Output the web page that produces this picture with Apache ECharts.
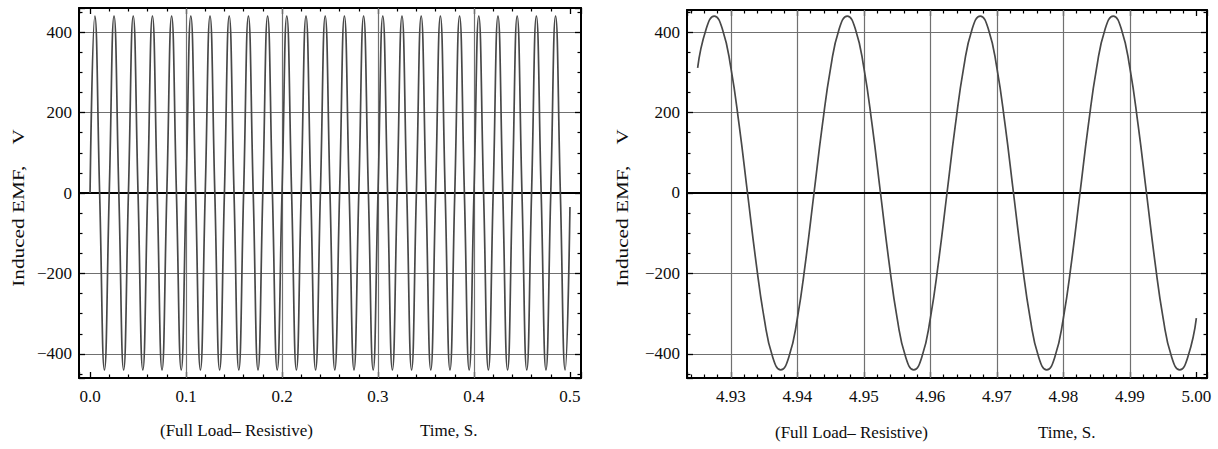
<!DOCTYPE html>
<html>
<head>
<meta charset="utf-8">
<script src="https://cdn.jsdelivr.net/npm/echarts@6/dist/echarts.min.js"></script>
<style>
html,body{margin:0;padding:0;background:#fff;}
#chart{width:1218px;height:449px;}
</style>
</head>
<body>
<div id="chart"></div>
<script>
// ---- Data ----
const leftTime = [
  0,0.005,0.01,0.015,0.02,0.025,0.03,0.035,0.04,0.045,0.05,0.055,0.06,0.065,0.07,0.075,0.08,0.085,0.09,0.095,
  0.1,0.105,0.11,0.115,0.12,0.125,0.13,0.135,0.14,0.145,0.15,0.155,0.16,0.165,0.17,0.175,0.18,0.185,0.19,0.195,
  0.2,0.205,0.21,0.215,0.22,0.225,0.23,0.235,0.24,0.245,0.25,0.255,0.26,0.265,0.27,0.275,0.28,0.285,0.29,0.295,
  0.3,0.305,0.31,0.315,0.32,0.325,0.33,0.335,0.34,0.345,0.35,0.355,0.36,0.365,0.37,0.375,0.38,0.385,0.39,0.395,
  0.4,0.405,0.41,0.415,0.42,0.425,0.43,0.435,0.44,0.445,0.45,0.455,0.46,0.465,0.47,0.475,0.48,0.485,0.49,0.495,
  0.5
];
const leftEmf = [
  0,440,0,-440,0,440,0,-440,0,440,0,-440,0,440,0,-440,0,440,0,-440,
  0,440,0,-440,0,440,0,-440,0,440,0,-440,0,440,0,-440,0,440,0,-440,
  0,440,0,-440,0,440,0,-440,0,440,0,-440,0,440,0,-440,0,440,0,-440,
  0,440,0,-440,0,440,0,-440,0,440,0,-440,0,440,0,-440,0,440,0,-440,
  0,440,0,-440,0,440,0,-440,0,440,0,-440,0,440,0,-440,0,440,0,-440,
  -35
];
const rightTime = [
  4.925,4.92625,4.9275,4.92875,4.93,4.93125,4.9325,4.93375,4.935,4.93625,4.9375,4.93875,
  4.94,4.94125,4.9425,4.94375,4.945,4.94625,4.9475,4.94875,4.95,4.95125,4.9525,4.95375,
  4.955,4.95625,4.9575,4.95875,4.96,4.96125,4.9625,4.96375,4.965,4.96625,4.9675,4.96875,
  4.97,4.97125,4.9725,4.97375,4.975,4.97625,4.9775,4.97875,4.98,4.98125,4.9825,4.98375,
  4.985,4.98625,4.9875,4.98875,4.99,4.99125,4.9925,4.99375,4.995,4.99625,4.9975,4.99875,5.0
];
const rightEmf = [
  311,406,
  440,406,311,168,0,-168,-311,-406,-440,-406,-311,-168,0,168,311,406,
  440,406,311,168,0,-168,-311,-406,-440,-406,-311,-168,0,168,311,406,
  440,406,311,168,0,-168,-311,-406,-440,-406,-311,-168,0,168,311,406,
  440,406,311,168,0,-168,-311,-406,-440,-406,-311
];
const leftGridX = [0.1, 0.2, 0.3, 0.4];
const rightGridX = [4.93, 4.94, 4.95, 4.96, 4.97, 4.98, 4.99];
const yLabel = 'Induced EMF,\u00a0\u00a0\u00a0\u00a0V';
const xNote = '(Full Load\u2013 Resistive)';
const xTitle = 'Time, S.';

// ---- Chart ----
const FONT = '"Liberation Serif", "DejaVu Serif", serif';
const TXT = '#0d0d0d';
const chart = echarts.init(document.getElementById('chart'), null, {renderer: 'svg'});

function pair(arrX, arrY) { return arrX.map((x, i) => [x, arrY[i]]); }
const fmtY = v => (v < 0 ? '\u2212' + Math.abs(v) : String(v));

function xAxisDef(grid, min, max, pos, digits, splitNumber) {
  const main = pos === 'bottom';
  return {
    type: 'value', gridIndex: grid, position: pos, min: min, max: max,
    splitNumber: splitNumber,
    axisLine: {show: true, onZero: false, lineStyle: {color: '#000', width: 2}},
    axisTick: {show: true, inside: true, length: 6, lineStyle: {color: '#000', width: 1.3}},
    minorTick: {show: true, splitNumber: 5, length: 3.5, lineStyle: {color: '#000', width: 1.2}},
    axisLabel: {show: main, margin: 10, fontFamily: FONT, fontSize: 17, color: TXT,
      showMinLabel: false, showMaxLabel: false,
      formatter: v => v.toFixed(digits)},
    splitLine: {show: false}
  };
}
function yAxisDef(grid, min, max, pos) {
  const main = pos === 'left';
  return {
    type: 'value', gridIndex: grid, position: pos, min: min, max: max,
    axisLine: {show: true, onZero: false, lineStyle: {color: '#000', width: 2}},
    axisTick: {show: true, inside: true, length: 6, lineStyle: {color: '#000', width: 1.3}},
    minorTick: {show: true, splitNumber: 4, length: 3.5, lineStyle: {color: '#000', width: 1.2}},
    axisLabel: {show: main, margin: 7, fontFamily: FONT, fontSize: 17, color: TXT,
      showMinLabel: false, showMaxLabel: false, formatter: fmtY},
    splitLine: {show: main, lineStyle: {color: '#707070', width: 1.2}}
  };
}
function gridLines(xs) {
  const d = xs.map(v => ({xAxis: v, lineStyle: {color: '#707070', width: 1.2, type: 'solid'}}));
  d.push({yAxis: 0, lineStyle: {color: '#000', width: 2, type: 'solid'}});
  return {silent: true, symbol: 'none', z: 1, label: {show: false}, data: d};
}

const option = {
  animation: false,
  backgroundColor: '#fff',
  grid: [
    {left: 79, top: 8, width: 502, height: 370},
    {left: 687, top: 10, width: 520, height: 368}
  ],
  xAxis: [
    xAxisDef(0, -0.0115, 0.5115, 'bottom', 1, 5),
    xAxisDef(0, -0.0115, 0.5115, 'top', 1, 5),
    xAxisDef(1, 4.9234, 5.0016, 'bottom', 2, 8),
    xAxisDef(1, 4.9234, 5.0016, 'top', 2, 8)
  ],
  yAxis: [
    yAxisDef(0, -460, 460, 'left'),
    yAxisDef(0, -460, 460, 'right'),
    yAxisDef(1, -460, 455, 'left'),
    yAxisDef(1, -460, 455, 'right')
  ],
  series: [
    {
      type: 'line', xAxisIndex: 0, yAxisIndex: 0, z: 3,
      data: pair(leftTime, leftEmf), showSymbol: false, smooth: true,
      lineStyle: {color: '#484848', width: 1.7},
      markLine: gridLines(leftGridX)
    },
    {
      type: 'line', xAxisIndex: 2, yAxisIndex: 2, z: 3,
      data: pair(rightTime, rightEmf), showSymbol: false, smooth: true,
      lineStyle: {color: '#484848', width: 1.7},
      markLine: gridLines(rightGridX)
    }
  ],
  graphic: [
    {type: 'text', x: 18, y: 208, rotation: Math.PI / 2, scaleX: 1.25,
     style: {text: yLabel, fontFamily: FONT, fontSize: 17, fill: TXT, textAlign: 'center', textVerticalAlign: 'middle'}},
    {type: 'text', x: 622, y: 208, rotation: Math.PI / 2, scaleX: 1.25,
     style: {text: yLabel, fontFamily: FONT, fontSize: 17, fill: TXT, textAlign: 'center', textVerticalAlign: 'middle'}},
    {type: 'text', x: 160, y: 430,
     style: {text: xNote, fontFamily: FONT, fontSize: 17, fill: TXT, textAlign: 'left', textVerticalAlign: 'middle'}},
    {type: 'text', x: 420, y: 430,
     style: {text: xTitle, fontFamily: FONT, fontSize: 17, fill: TXT, textAlign: 'left', textVerticalAlign: 'middle'}},
    {type: 'text', x: 775, y: 432,
     style: {text: xNote, fontFamily: FONT, fontSize: 17, fill: TXT, textAlign: 'left', textVerticalAlign: 'middle'}},
    {type: 'text', x: 1038, y: 432,
     style: {text: xTitle, fontFamily: FONT, fontSize: 17, fill: TXT, textAlign: 'left', textVerticalAlign: 'middle'}}
  ]
};
chart.setOption(option);
</script>
</body>
</html>
